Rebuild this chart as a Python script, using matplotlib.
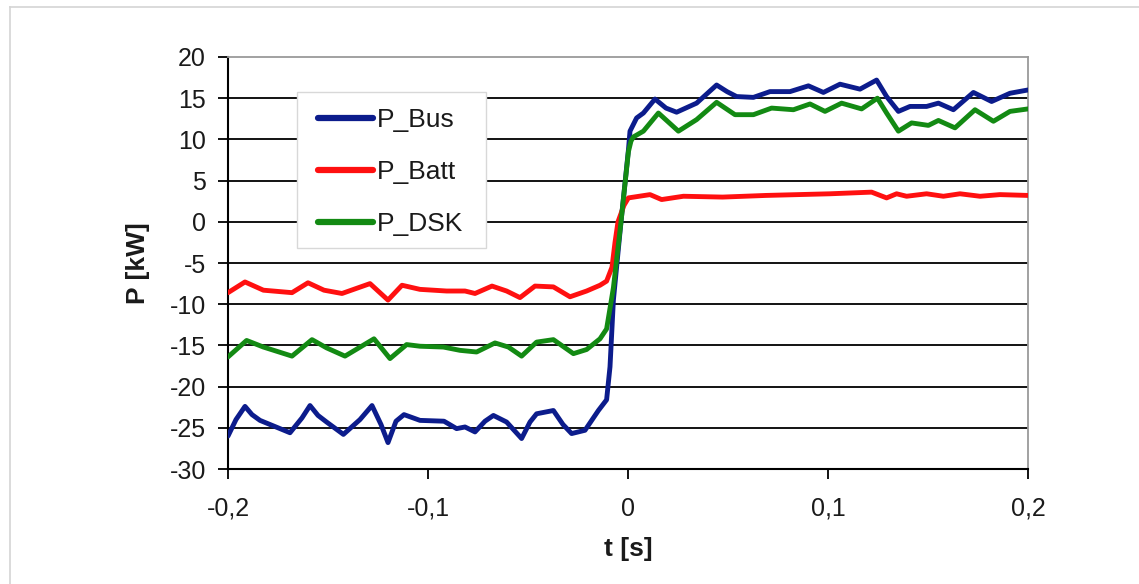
import matplotlib
matplotlib.use("Agg")
import matplotlib.pyplot as plt
from matplotlib.lines import Line2D
from matplotlib.patches import Rectangle

plt.rcParams['font.family'] = ['Liberation Sans', 'DejaVu Sans']

# ---- data ----
t_bus = [-0.2, -0.196, -0.1915, -0.188, -0.184, -0.176, -0.169, -0.163, -0.159, -0.155,
         -0.1507, -0.1423, -0.134, -0.128, -0.1235, -0.12, -0.116, -0.112, -0.104, -0.092,
         -0.0857, -0.0815, -0.0765, -0.0715, -0.0673, -0.0607, -0.0532, -0.049, -0.0457, -0.0373,
         -0.0325, -0.0282, -0.0215, -0.0148, -0.0107, -0.009, -0.0073, -0.0035, 0.0002, 0.001,
         0.0043, 0.0077, 0.0135, 0.019, 0.0243, 0.0343, 0.0443, 0.0495, 0.0543, 0.0627,
         0.071, 0.081, 0.0902, 0.0977, 0.106, 0.116, 0.1243, 0.1293, 0.1352, 0.141,
         0.1493, 0.1552, 0.1627, 0.1727, 0.1818, 0.191, 0.2]
p_bus = [-26.0, -24.0, -22.4, -23.4, -24.1, -24.9, -25.6, -23.8, -22.3, -23.5,
         -24.3, -25.8, -24.0, -22.3, -24.6, -26.8, -24.2, -23.4, -24.1, -24.2,
         -25.1, -24.9, -25.5, -24.2, -23.5, -24.3, -26.3, -24.3, -23.3, -22.9,
         -24.6, -25.7, -25.3, -22.9, -21.6, -17.6, -9.5, 0.0, 8.7, 11.0,
         12.6, 13.2, 14.9, 13.8, 13.3, 14.4, 16.6, 15.8, 15.2, 15.1,
         15.8, 15.8, 16.5, 15.7, 16.7, 16.1, 17.2, 15.2, 13.4, 14.0,
         14.0, 14.4, 13.6, 15.7, 14.6, 15.6, 16.0]

t_batt = [-0.2, -0.1915, -0.1823, -0.168, -0.16, -0.152, -0.143, -0.129, -0.12, -0.113,
          -0.104, -0.0907, -0.0815, -0.0765, -0.068, -0.0607, -0.054, -0.0465, -0.0373, -0.029,
          -0.0207, -0.014, -0.0107, -0.008, -0.0065, -0.005, -0.002, 0.0002, 0.011, 0.0168,
          0.0277, 0.0473, 0.069, 0.101, 0.1218, 0.1293, 0.1343, 0.1393, 0.1493, 0.1577,
          0.166, 0.176, 0.186, 0.2]
p_batt = [-8.6, -7.3, -8.3, -8.6, -7.4, -8.3, -8.7, -7.5, -9.5, -7.7,
          -8.2, -8.4, -8.4, -8.7, -7.8, -8.4, -9.2, -7.8, -7.9, -9.1,
          -8.4, -7.7, -7.2, -5.5, -2.5, 0.0, 2.0, 2.9, 3.3, 2.7,
          3.1, 3.0, 3.2, 3.4, 3.6, 2.9, 3.4, 3.1, 3.4, 3.1,
          3.4, 3.1, 3.3, 3.2]

t_dsk = [-0.2, -0.1907, -0.1823, -0.168, -0.158, -0.1507, -0.1415, -0.127, -0.119, -0.1107,
         -0.104, -0.0923, -0.084, -0.0757, -0.0665, -0.0598, -0.0532, -0.0457, -0.0373, -0.0273,
         -0.0207, -0.014, -0.0107, -0.0073, -0.0035, 0.0002, 0.0015, 0.0027, 0.0077, 0.0152,
         0.0252, 0.0343, 0.0443, 0.0535, 0.0627, 0.0718, 0.0827, 0.091, 0.0985, 0.1068,
         0.1168, 0.1247, 0.1293, 0.1352, 0.1418, 0.1502, 0.1552, 0.1635, 0.1735, 0.1827,
         0.191, 0.2]
p_dsk = [-16.4, -14.4, -15.2, -16.3, -14.3, -15.3, -16.3, -14.2, -16.6, -14.9,
         -15.1, -15.2, -15.6, -15.8, -14.7, -15.2, -16.3, -14.6, -14.3, -16.0,
         -15.5, -14.2, -13.0, -8.0, 0.0, 8.5, 9.8, 10.3, 11.0, 13.2,
         11.0, 12.4, 14.5, 13.0, 13.0, 13.8, 13.6, 14.3, 13.4, 14.4,
         13.7, 15.0, 13.2, 11.0, 12.0, 11.7, 12.3, 11.4, 13.6, 12.2,
         13.4, 13.7]

x_ticks = [-0.2, -0.1, 0.0, 0.1, 0.2]
x_ticklabels = ["-0,2", "-0,1", "0", "0,1", "0,2"]
y_ticks = [20, 15, 10, 5, 0, -5, -10, -15, -20, -25, -30]
y_ticklabels = ["20", "15", "10", "5", "0", "-5", "-10", "-15", "-20", "-25", "-30"]

series_labels = ["P_Bus", "P_Batt", "P_DSK"]
series_colors = ["#0c1c8c", "#ff1010", "#138a13"]

# ---- figure ----
W, H = 1139, 584
fig = plt.figure(figsize=(W / 100, H / 100), dpi=100)
ax_l, ax_r, ax_t, ax_b = 228, 1028, 57, 469
ax = fig.add_axes([ax_l / W, 1 - ax_b / H, (ax_r - ax_l) / W, (ax_b - ax_t) / H])

def ax_frac(px, py):
    return (px - ax_l) / (ax_r - ax_l), (ax_b - py) / (ax_b - ax_t)

# outer light-gray frame (top and left edges visible)
fig.add_artist(Line2D([10 / W, 1.0], [1 - 7 / H, 1 - 7 / H],
                      transform=fig.transFigure, color="#d4d4d4", lw=1.2))
fig.add_artist(Line2D([10 / W, 10 / W], [0, 1 - 7 / H],
                      transform=fig.transFigure, color="#d4d4d4", lw=1.2))

ax.set_xlim(-0.2, 0.2)
ax.set_ylim(-30, 20)

for y in y_ticks[1:]:
    ax.axhline(y, color="black", lw=1.3, zorder=1)

lw = 3.5
ax.plot(t_bus, p_bus, color=series_colors[0], lw=lw, label=series_labels[0],
        solid_joinstyle="round", solid_capstyle="round", zorder=3)
ax.plot(t_batt, p_batt, color=series_colors[1], lw=lw, label=series_labels[1],
        solid_joinstyle="round", solid_capstyle="round", zorder=4)
ax.plot(t_dsk, p_dsk, color=series_colors[2], lw=lw, label=series_labels[2],
        solid_joinstyle="round", solid_capstyle="round", zorder=5)

ax.set_xticks(x_ticks)
ax.set_xticklabels(x_ticklabels)
ax.set_yticks(y_ticks)
ax.set_yticklabels(y_ticklabels)
ax.tick_params(axis="both", direction="out", length=7, width=1.3, colors="black",
               labelsize=18, labelcolor="#1a1a1a")
ax.tick_params(axis="y", pad=9)
ax.tick_params(axis="x", pad=13)

for side in ["left", "bottom"]:
    ax.spines[side].set_color("black")
    ax.spines[side].set_linewidth(1.5)
for side in ["top", "right"]:
    ax.spines[side].set_color("#9a9a9a")
    ax.spines[side].set_linewidth(1.3)

ax.set_xlabel("t [s]", fontsize=19, fontweight="bold", labelpad=12, color="#1a1a1a")
ax.set_ylabel("P [kW]", fontsize=19, fontweight="bold", labelpad=14, color="#1a1a1a")

# legend box drawn as a separate frame (wider horizontal padding than vertical)
bx0, by0 = ax_frac(297, 248)
bx1, by1 = ax_frac(486, 92)
ax.add_patch(Rectangle((bx0, by0), bx1 - bx0, by1 - by0, transform=ax.transAxes,
                       facecolor="white", edgecolor="#d8d8d8", lw=1.0, zorder=6))

lx, ly = ax_frac(318, 172)
leg = ax.legend(loc="center left", bbox_to_anchor=(lx, ly), fontsize=19,
                frameon=False, handlelength=2.08, handletextpad=0.15,
                labelspacing=1.07, borderpad=0, borderaxespad=0)
leg.set_zorder(7)
for line in leg.get_lines():
    line.set_linewidth(4.5)
for txt in leg.get_texts():
    txt.set_color("#1a1a1a")

fig.savefig("out.png", dpi=100, facecolor="white")
